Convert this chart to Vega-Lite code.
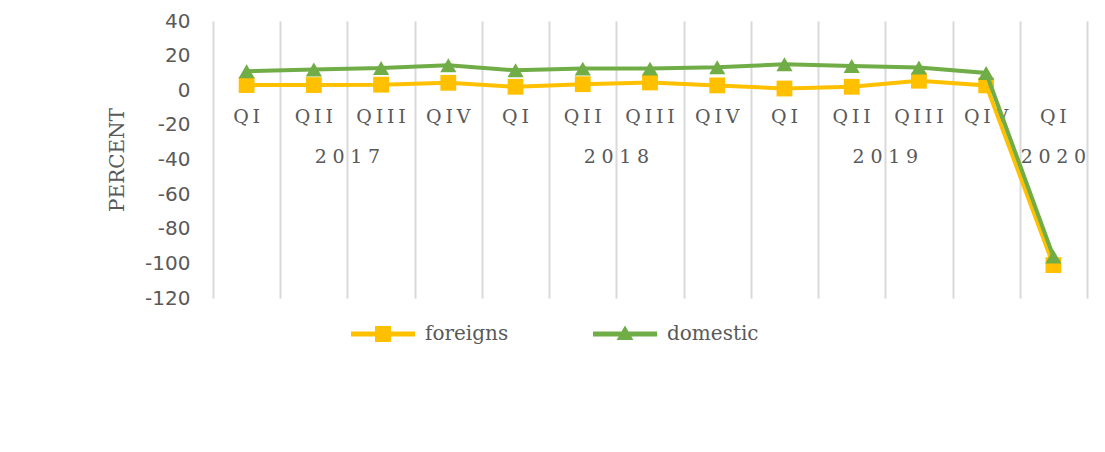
{
  "$schema": "https://vega.github.io/schema/vega-lite/v6.json",
  "width": 874,
  "height": 277,
  "autosize": {"type": "none"},
  "padding": {"left": 213, "top": 21, "right": 18, "bottom": 154},
  "background": "white",
  "config": {"view": {"stroke": null}},
  "datasets": {
    "main": [
      {"key": "2017 QI", "quarter": "QI", "series": "foreigns", "value": 3.0},
      {"key": "2017 QII", "quarter": "QII", "series": "foreigns", "value": 3.0},
      {"key": "2017 QIII", "quarter": "QIII", "series": "foreigns", "value": 3.2},
      {"key": "2017 QIV", "quarter": "QIV", "series": "foreigns", "value": 4.3},
      {"key": "2018 QI", "quarter": "QI", "series": "foreigns", "value": 2.0},
      {"key": "2018 QII", "quarter": "QII", "series": "foreigns", "value": 3.5},
      {"key": "2018 QIII", "quarter": "QIII", "series": "foreigns", "value": 4.5},
      {"key": "2018 QIV", "quarter": "QIV", "series": "foreigns", "value": 2.8},
      {"key": "2019 QI", "quarter": "QI", "series": "foreigns", "value": 1.0},
      {"key": "2019 QII", "quarter": "QII", "series": "foreigns", "value": 2.0},
      {"key": "2019 QIII", "quarter": "QIII", "series": "foreigns", "value": 5.5},
      {"key": "2019 QIV", "quarter": "QIV", "series": "foreigns", "value": 2.8},
      {"key": "2020 QI", "quarter": "QI", "series": "foreigns", "value": -101},
      {"key": "2017 QI", "quarter": "QI", "series": "domestic", "value": 11.0},
      {"key": "2017 QII", "quarter": "QII", "series": "domestic", "value": 12.0},
      {"key": "2017 QIII", "quarter": "QIII", "series": "domestic", "value": 12.8},
      {"key": "2017 QIV", "quarter": "QIV", "series": "domestic", "value": 14.5},
      {"key": "2018 QI", "quarter": "QI", "series": "domestic", "value": 11.5},
      {"key": "2018 QII", "quarter": "QII", "series": "domestic", "value": 12.5},
      {"key": "2018 QIII", "quarter": "QIII", "series": "domestic", "value": 12.5},
      {"key": "2018 QIV", "quarter": "QIV", "series": "domestic", "value": 13.3},
      {"key": "2019 QI", "quarter": "QI", "series": "domestic", "value": 15.0},
      {"key": "2019 QII", "quarter": "QII", "series": "domestic", "value": 14.0},
      {"key": "2019 QIII", "quarter": "QIII", "series": "domestic", "value": 13.2},
      {"key": "2019 QIV", "quarter": "QIV", "series": "domestic", "value": 10.0},
      {"key": "2020 QI", "quarter": "QI", "series": "domestic", "value": -96}
    ],
    "years": [
      {"key": "2017 QII", "year": "2017"},
      {"key": "2018 QII", "year": "2018"},
      {"key": "2019 QII", "year": "2019"}
    ],
    "yearEnd": [
      {"key": "2020 QI", "year": "2020"}
    ]
  },
  "data": {"name": "main"},
  "layer": [
    {
      "mark": {"type": "rule", "color": "#d9d9d9", "strokeWidth": 2},
      "encoding": {
        "x": {
          "field": "key", "type": "ordinal",
          "scale": {"domain": ["2017 QI","2017 QII","2017 QIII","2017 QIV","2018 QI","2018 QII","2018 QIII","2018 QIV","2019 QI","2019 QII","2019 QIII","2019 QIV","2020 QI"], "paddingInner": 0, "paddingOuter": 0},
          "axis": {"title": null, "labels": false, "ticks": false, "domain": false, "grid": true, "gridColor": "#d9d9d9", "gridWidth": 2, "tickBand": "extent"}
        },
        "y": {
          "datum": 0, "type": "quantitative",
          "scale": {"domain": [-120, 40], "nice": false},
          "axis": {"values": [-120, -100, -80, -60, -40, -20, 0, 20, 40], "tickCount": 9, "labelOverlap": false, "labelExpr": "replace(datum.label, '\u2212', '-')", "grid": false, "domain": false, "ticks": false, "labelPadding": 23, "labelFont": "DejaVu Sans", "labelFontSize": 20, "labelColor": "#595959", "title": "PERCENT", "titleFont": "DejaVu Serif", "titleFontSize": 20, "titleFontWeight": "normal", "titleColor": "#595959", "titlePadding": 17}
        },
        "size": {"value": 874}
      }
    },
    {
      "transform": [{"filter": "datum.series === 'foreigns'"}],
      "mark": {"type": "text", "font": "DejaVu Serif", "fontSize": 19, "color": "#595959", "dy": 27, "baseline": "middle", "align": "center", "text": {"expr": "join(split(datum.quarter, ''), '\u2009')"}},
      "encoding": {
        "x": {"field": "key", "type": "ordinal"},
        "y": {"datum": 0, "type": "quantitative"}
      }
    },
    {
      "data": {"name": "years"},
      "mark": {"type": "text", "font": "DejaVu Serif", "fontSize": 19, "color": "#595959", "dy": 67, "baseline": "middle", "align": "center", "text": {"expr": "join(split(datum.year, ''), '\u2009\u200A')"}},
      "encoding": {
        "x": {"field": "key", "type": "ordinal", "bandPosition": 1},
        "y": {"datum": 0, "type": "quantitative"}
      }
    },
    {
      "data": {"name": "yearEnd"},
      "mark": {"type": "text", "font": "DejaVu Serif", "fontSize": 19, "color": "#595959", "dy": 67, "baseline": "middle", "align": "center", "text": {"expr": "join(split(datum.year, ''), '\u2009\u200A')"}},
      "encoding": {
        "x": {"field": "key", "type": "ordinal", "bandPosition": 0.5},
        "y": {"datum": 0, "type": "quantitative"}
      }
    },
    {
      "transform": [{"filter": "datum.series === 'foreigns'"}],
      "mark": {"type": "line", "strokeWidth": 4, "color": "#FFC000"},
      "encoding": {
        "x": {"field": "key", "type": "ordinal"},
        "y": {"field": "value", "type": "quantitative"}
      }
    },
    {
      "transform": [{"filter": "datum.series === 'foreigns'"}],
      "mark": {"type": "point", "filled": true, "opacity": 1, "size": 250, "shape": "square", "color": "#FFC000"},
      "encoding": {
        "x": {"field": "key", "type": "ordinal"},
        "y": {"field": "value", "type": "quantitative"}
      }
    },
    {
      "transform": [{"filter": "datum.series === 'domestic'"}],
      "mark": {"type": "line", "strokeWidth": 4, "color": "#70AD47"},
      "encoding": {
        "x": {"field": "key", "type": "ordinal"},
        "y": {"field": "value", "type": "quantitative"}
      }
    },
    {
      "transform": [{"filter": "datum.series === 'domestic'"}],
      "mark": {"type": "point", "filled": true, "opacity": 1, "size": 260, "shape": "triangle-up", "color": "#70AD47"},
      "encoding": {
        "x": {"field": "key", "type": "ordinal"},
        "y": {"field": "value", "type": "quantitative"}
      }
    },
    {
      "transform": [{"filter": "false"}],
      "mark": {"type": "point", "filled": true, "opacity": 1, "size": 256},
      "encoding": {
        "color": {
          "field": "series", "type": "nominal",
          "scale": {"domain": ["foreigns", "domestic"], "range": ["#FFC000", "#70AD47"]},
          "legend": {
            "orient": "none", "legendX": 160, "legendY": 303, "direction": "horizontal", "title": null, "padding": 0,
            "symbolSize": 256, "labelOffset": 32, "columnPadding": 84, "symbolStrokeWidth": 0, "symbolOpacity": 1,
            "labelFont": "DejaVu Serif", "labelFontSize": 20, "labelColor": "#595959"
          }
        },
        "shape": {
          "field": "series", "type": "nominal",
          "scale": {"domain": ["foreigns", "domestic"], "range": ["M-4,-0.3H4V0.3H-4Z M-1,-1H1V1H-1Z", "M-4,-0.3H4V0.3H-4Z M0,-1.05L1.05,0.75H-1.05Z"]},
          "legend": {
            "orient": "none", "legendX": 160, "legendY": 303, "direction": "horizontal", "title": null, "padding": 0,
            "symbolSize": 256, "labelOffset": 32, "columnPadding": 84, "symbolStrokeWidth": 0, "symbolOpacity": 1,
            "labelFont": "DejaVu Serif", "labelFontSize": 20, "labelColor": "#595959"
          }
        }
      }
    }
  ]
}
